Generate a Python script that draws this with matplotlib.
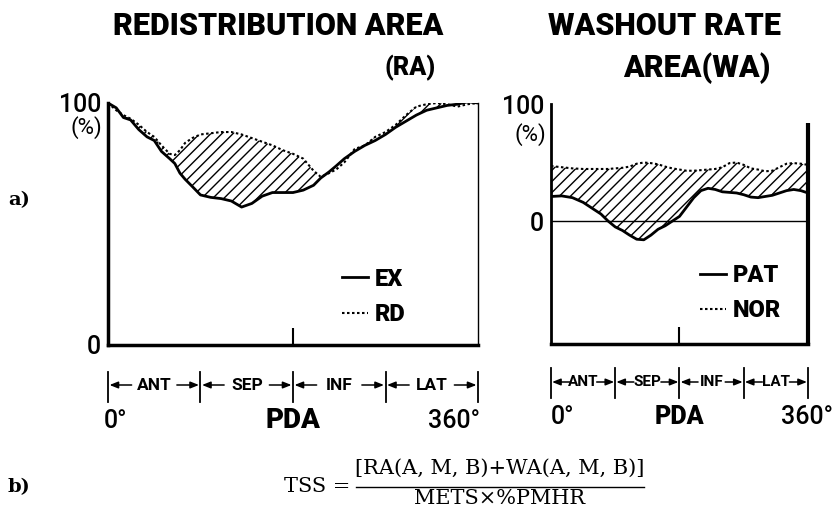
import matplotlib
matplotlib.use("Agg")
import matplotlib.pyplot as plt
import matplotlib.transforms as mtransforms
import numpy as np

# ---- data ----
ra_deg = [0, 8, 15, 22, 30, 38, 45, 52, 60, 65, 70, 75, 82, 90, 100, 110, 120, 130,
          140, 150, 160, 170, 180, 190, 200, 207, 215, 222, 230, 240, 250, 260, 270,
          280, 290, 300, 310, 320, 330, 340, 350, 360]
ex_val = [100, 98, 94, 93, 89, 86, 84.5, 80, 77, 75, 71, 68.5, 65.5, 62, 61, 60.5, 59.5, 57,
          58.5, 61.5, 63, 63, 63, 64, 66, 69, 71.5, 74, 77, 80, 82.5, 84.5, 87,
          90, 92.5, 95, 97, 98, 99, 99.5, 100.5, 100]
rd_val = [100, 97, 95, 93.5, 91, 88, 86, 82.5, 79, 78.5, 80.5, 83.5, 85.5, 87, 87.5, 88, 88, 87,
          85.5, 84, 82.5, 80.5, 79, 77, 72, 69.5, 71, 72.5, 75.5, 81, 82.5, 86, 88,
          91, 95, 98.5, 99.5, 100, 99.5, 98.5, 99.5, 100]

wa_deg = [0, 15, 30, 45, 60, 70, 80, 90, 100, 110, 120, 130, 140, 150, 160, 170, 180, 190,
          200, 210, 220, 230, 240, 250, 260, 270, 280, 290, 300, 310, 320, 330, 340, 350, 360]
nor_val = [47, 46, 45, 44.5, 44.5, 44.5, 44.5, 45, 45.5, 46.5, 49, 50, 49.5, 48.5, 46.5, 45, 44, 43,
           43, 43.5, 44, 44.5, 46, 49.5, 50, 48, 45, 44, 42.5, 43, 46, 49, 49.5, 49, 48]
pat_val = [21, 21.5, 20, 16, 10, 6, 0, -5, -8, -12, -15.5, -16, -12, -7, -4, 0, 4, 12,
           20, 26, 28, 27, 25, 24.5, 24, 22.5, 20.5, 20, 21, 22, 24, 26, 27, 26, 24]

segments = ["ANT", "SEP", "INF", "LAT"]
seg_edges = [0, 90, 180, 270, 360]

SANS = ["Roboto", "DejaVu Sans"]
SERIF = ["DejaVu Serif"]

fig = plt.figure(figsize=(8.37, 5.09), dpi=100)
W, H = 837, 509


def px_box(x0, y0, x1, y1):
    return [x0 / W, 1 - y1 / H, (x1 - x0) / W, (y1 - y0) / H]


def fy(ypx):
    return 1 - ypx / H


def draw_segments(ax, half_label, bar_top, bar_bot, y_mid, fs):
    tr = mtransforms.blended_transform_factory(ax.transData, fig.transFigure)
    for e in seg_edges:
        ax.plot([e, e], [fy(bar_top), fy(bar_bot)], color="black", lw=1.3,
                transform=tr, clip_on=False)
    for i, name in enumerate(segments):
        a, b = seg_edges[i], seg_edges[i + 1]
        c = (a + b) / 2
        ax.text(c, fy(y_mid), name, transform=tr, ha="center", va="center",
                fontsize=fs, fontweight="bold", family=SANS)
        for tip, tail in [(a + 1.5, c - half_label), (b - 1.5, c + half_label)]:
            ax.annotate("", xy=(tip, fy(y_mid)), xytext=(tail, fy(y_mid)),
                        xycoords=tr, textcoords=tr,
                        arrowprops=dict(arrowstyle="-|>,head_length=0.5,head_width=0.2",
                                        color="black", lw=1.1, shrinkA=0, shrinkB=0))
    return tr


def legend_at(ax, x_px, y_px, fs, spacing):
    return ax.legend(loc="center left", bbox_to_anchor=(x_px / W, fy(y_px)),
                     bbox_transform=fig.transFigure, frameon=False, borderpad=0,
                     borderaxespad=0, handlelength=1.1, handletextpad=0.3,
                     labelspacing=spacing, prop=dict(family=SANS, weight="black", size=fs))


# ---- left panel: redistribution area ----
ax1 = fig.add_axes(px_box(108, 103, 478, 345))
ax1.fill_between(ra_deg, ex_val, rd_val, where=np.array(rd_val) > np.array(ex_val),
                 interpolate=True, facecolor="none", edgecolor="black", hatch="///", lw=0)
ax1.plot(ra_deg, ex_val, color="black", lw=2.0, label="EX")
ax1.plot(ra_deg, rd_val, color="black", lw=1.5, ls=(0, (1.2, 1.2)), label="RD")
ax1.set_xlim(0, 360)
ax1.set_ylim(0, 100)
ax1.spines["top"].set_visible(False)
ax1.spines["left"].set_linewidth(2.5)
ax1.spines["bottom"].set_linewidth(2.5)
ax1.spines["right"].set_linewidth(1.0)
ax1.set_xticks([180])
ax1.set_xticklabels([])
ax1.tick_params(axis="x", direction="in", length=12, width=1.5)
ax1.set_yticks([0, 100])
ax1.set_yticklabels(["0", "100"], fontsize=18, family=SANS, fontweight="medium")
ax1.tick_params(axis="y", length=0, pad=5)
ax1.text(102 / W, fy(128), "(%)", transform=fig.transFigure, ha="right", va="center",
         fontsize=16, family=SANS)
legend_at(ax1, 342, 297, 17, 0.55)

tr1 = draw_segments(ax1, 22, 372, 402, 385, 12.5)
ax1.text(-4, fy(421), "0°", transform=tr1, ha="left", va="center", fontsize=18,
         family=SANS, fontweight="medium")
ax1.text(180, fy(421), "PDA", transform=tr1, ha="center", va="center", fontsize=20,
         fontweight="black", family=SANS)
ax1.text(362, fy(421), "360°", transform=tr1, ha="right", va="center", fontsize=18,
         family=SANS, fontweight="medium")

# ---- right panel: washout rate area ----
ax2 = fig.add_axes(px_box(551, 104, 808, 344))
ax2.fill_between(wa_deg, pat_val, nor_val, facecolor="none", edgecolor="black",
                 hatch="///", lw=0)
ax2.plot(wa_deg, pat_val, color="black", lw=2.0, label="PAT")
ax2.plot(wa_deg, nor_val, color="black", lw=1.5, ls=(0, (1.2, 1.2)), label="NOR")
ax2.axhline(0, color="black", lw=1.0)
ax2.set_xlim(0, 360)
ax2.set_ylim(-105, 100)
for s in ["top", "right"]:
    ax2.spines[s].set_visible(False)
ax2.spines["left"].set_linewidth(2.0)
ax2.spines["bottom"].set_linewidth(2.5)
ax2.plot([360, 360], [-105, 84], color="black", lw=3.0, clip_on=False,
         solid_capstyle="butt")
ax2.set_xticks([180])
ax2.set_xticklabels([])
ax2.tick_params(axis="x", direction="in", length=12, width=1.5)
ax2.set_yticks([0, 100])
ax2.set_yticklabels(["0", "100"], fontsize=18, family=SANS, fontweight="medium")
ax2.tick_params(axis="y", length=0, pad=5)
ax2.text(546 / W, fy(135), "(%)", transform=fig.transFigure, ha="right", va="center",
         fontsize=16, family=SANS)
legend_at(ax2, 700, 293, 17, 0.5)

tr2 = draw_segments(ax2, 19, 368, 398, 382, 11)
ax2.text(0, fy(417), "0°", transform=tr2, ha="left", va="center", fontsize=18,
         family=SANS, fontweight="medium")
ax2.text(180, fy(417), "PDA", transform=tr2, ha="center", va="center", fontsize=18,
         fontweight="black", family=SANS)
ax2.text(395, fy(417), "360°", transform=tr2, ha="right", va="center", fontsize=18,
         family=SANS, fontweight="medium")

# ---- titles ----
fig.text(113 / W, fy(26), "REDISTRIBUTION AREA", ha="left", va="center",
         fontsize=22, fontweight="black", family=SANS)
fig.text(410 / W, fy(68), "(RA)", ha="center", va="center",
         fontsize=18, fontweight="black", family=SANS)
fig.text(665 / W, fy(26), "WASHOUT RATE", ha="center", va="center",
         fontsize=22, fontweight="black", family=SANS)
fig.text(697 / W, fy(68), "AREA(WA)", ha="center", va="center",
         fontsize=22, fontweight="black", family=SANS)

# ---- panel letters and formula ----
fig.text(8 / W, fy(200), "a)", ha="left", va="center", fontsize=14,
         fontweight="bold", family=SERIF)
fig.text(8 / W, fy(487), "b)", ha="left", va="center", fontsize=14,
         fontweight="bold", family=SERIF)
fig.text(350 / W, fy(487), "TSS =", ha="right", va="center", fontsize=15, family=SERIF)
fig.text(500 / W, fy(468), "[RA(A, M, B)+WA(A, M, B)]", ha="center", va="center",
         fontsize=15, family=SERIF)
fig.text(500 / W, fy(499), "METS×%PMHR", ha="center", va="center",
         fontsize=15, family=SERIF)
fig.add_artist(plt.Line2D([356 / W, 644 / W], [fy(487), fy(487)], color="black", lw=1.0))

fig.savefig("out.png", dpi=100)
